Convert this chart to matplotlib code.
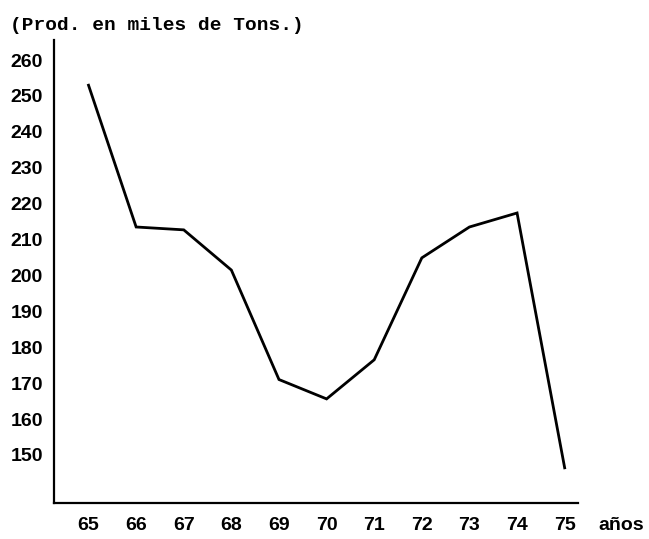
import matplotlib
matplotlib.use("Agg")
import matplotlib.pyplot as plt

# Produccion anual (miles de toneladas)
years = [65, 66, 67, 68, 69, 70, 71, 72, 73, 74, 75]
prod = [253, 213.5, 212.7, 201.5, 171, 165.6, 176.5, 204.9, 213.5, 217.4, 146.4]
y_ticks = [150, 160, 170, 180, 190, 200, 210, 220, 230, 240, 250, 260]

tick_font = {'family': 'Liberation Sans', 'weight': 'bold', 'size': 14}

fig = plt.figure(figsize=(6.49, 5.39), dpi=100)
ax = fig.add_axes([0.0832, 0.0668, 0.8074, 0.859])

ax.plot(years, prod, color='black', linewidth=2.0, solid_joinstyle='miter')

ax.set_xlim(64.275, 75.28)
ax.set_ylim(136.6, 265.6)

ax.set_xticks(years)
ax.set_xticklabels([str(y) for y in years], fontdict=tick_font)
ax.set_yticks(y_ticks)
ax.set_yticklabels([str(v) for v in y_ticks], fontdict=tick_font)
ax.tick_params(axis='both', length=0)
ax.tick_params(axis='x', pad=10)
ax.tick_params(axis='y', pad=8)

for s in ['top', 'right']:
    ax.spines[s].set_visible(False)
for s in ['left', 'bottom']:
    ax.spines[s].set_linewidth(1.6)

ax.annotate('años', xy=(75.70, 0), xycoords=('data', 'axes fraction'),
            xytext=(0, -10), textcoords='offset points',
            ha='left', va='top', fontsize=14,
            family='Liberation Sans', weight='bold')

fig.text(10 / 649, 1 - 25 / 539, '(Prod. en miles de Tons.)',
         family='Liberation Mono', weight='bold', fontsize=14,
         ha='left', va='center')

fig.savefig('out.png', dpi=100)
